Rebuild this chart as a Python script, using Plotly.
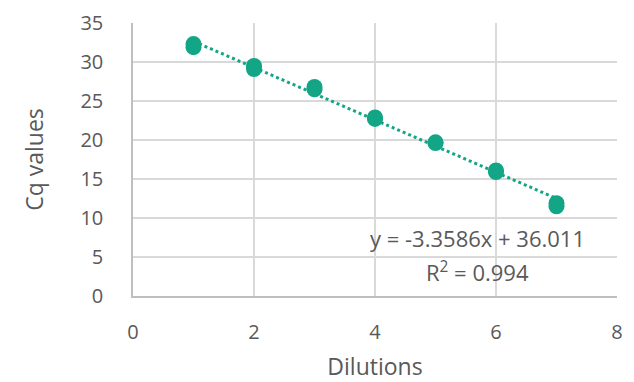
import plotly.graph_objects as go

dilutions = [1, 1, 2, 2, 3, 3, 4, 4, 5, 5, 6, 6, 7, 7]
cq_values = [32.3, 31.9, 29.5, 29.1, 26.8, 26.5, 22.9, 22.7, 19.7, 19.6, 16.1, 15.9, 11.9, 11.5]
slope = -3.3586
intercept = 36.011
r_squared = 0.994
trend_x = [1, 7]
trend_y = [slope * x + intercept for x in trend_x]
x_ticks = [0, 2, 4, 6, 8]
y_ticks = [0, 5, 10, 15, 20, 25, 30, 35]

teal = "#12a586"
grey_text = "#595959"
font_family = "'Open Sans', 'Noto Sans', sans-serif"

fig = go.Figure()
fig.add_trace(go.Scatter(
    x=trend_x, y=trend_y, mode="lines",
    line=dict(color=teal, width=3, dash="dot"),
    hoverinfo="skip", showlegend=False,
))
fig.add_trace(go.Scatter(
    x=dilutions, y=cq_values, mode="markers",
    marker=dict(color=teal, size=16),
    showlegend=False,
))

fig.add_annotation(
    x=5.7, y=7.44, xref="x", yref="y",
    text=f"y = {slope}x + {intercept}",
    showarrow=False, font=dict(size=22, color=grey_text, family=font_family),
)
fig.add_annotation(
    x=5.7, y=3.1, xref="x", yref="y",
    text=f"R<sup>2</sup> = {r_squared}",
    showarrow=False, font=dict(size=22, color=grey_text, family=font_family),
)

fig.update_layout(
    width=634, height=382,
    margin=dict(l=133, r=17, t=23, b=86),
    paper_bgcolor="white", plot_bgcolor="white",
    font=dict(family=font_family, color=grey_text, size=20),
    xaxis=dict(
        range=[0, 8], tickvals=x_ticks, showgrid=True, gridcolor="#d9d9d9", gridwidth=1.5,
        zeroline=False, showline=True, linecolor="#bfbfbf", linewidth=1.5, mirror=False,
        ticks="", ticklabelstandoff=17, tickfont=dict(size=20, color=grey_text),
        title=dict(text="Dilutions", font=dict(size=23, color=grey_text), standoff=19),
        automargin=False,
    ),
    yaxis=dict(
        range=[0, 35], tickvals=y_ticks, showgrid=True, gridcolor="#d9d9d9", gridwidth=1.5,
        zeroline=False, showline=True, linecolor="#bfbfbf", linewidth=1.5,
        ticks="", ticklabelstandoff=24, tickfont=dict(size=20, color=grey_text),
        title=dict(text="Cq values", font=dict(size=23, color=grey_text), standoff=30),
        automargin=False,
    ),
)

fig.write_html("out.html", config={"displayModeBar": False},
               post_script="document.body.style.margin='0px';")
